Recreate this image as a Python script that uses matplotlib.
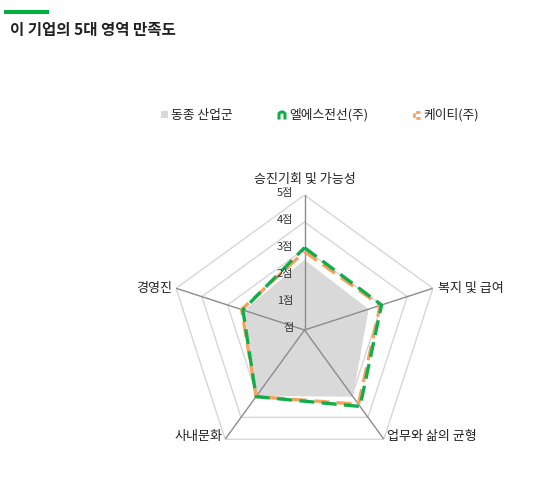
import numpy as np
import matplotlib
matplotlib.use("Agg")
import matplotlib.pyplot as plt
from matplotlib.lines import Line2D
from matplotlib.patches import Rectangle

plt.rcParams['font.family'] = ['Noto Sans CJK KR', 'DejaVu Sans']

categories = ["승진기회 및 가능성", "복지 및 급여", "업무와 삶의 균형", "사내문화", "경영진"]
industry = [2.6, 2.5, 3.05, 3.0, 2.35]
ls_cable = [3.05, 3.0, 3.5, 3.05, 2.4]
kt = [2.9, 2.95, 3.4, 3.05, 2.45]
series_names = ["동종 산업군", "엘에스전선(주)", "케이티(주)"]
tick_values = [0, 1, 2, 3, 4, 5]
tick_labels = ["점", "1점", "2점", "3점", "4점", "5점"]
title = "이 기업의 5대 영역 만족도"

GRAY = "#d9d9d9"
GREEN = "#12ad4b"
ORANGE = "#f6a15e"

W, H = 550, 490
fig = plt.figure(figsize=(W / 100, H / 100), dpi=100)

cx, cy, R = 304.5, 330, 135
ax = fig.add_axes([(cx - R) / W, (H - cy - R) / H, 2 * R / W, 2 * R / H], projection="polar")
ax.set_theta_offset(np.pi / 2)
ax.set_theta_direction(-1)
ax.set_ylim(0, 5)
ax.grid(False)
ax.spines["polar"].set_visible(False)
ax.set_xticks([])
ax.set_yticks([])
ax.patch.set_alpha(0)

n = len(categories)
theta = np.linspace(0, 2 * np.pi, n, endpoint=False)
theta_c = np.append(theta, theta[0])

def closed(v):
    return np.append(v, v[0])

# ring grid
for t in tick_values[1:]:
    ax.plot(theta_c, [t] * (n + 1), color="#d6d6d6", lw=1.0, zorder=1)

# industry fill
ax.fill(theta_c, closed(industry), color=GRAY, lw=0, zorder=2)

# spokes
for th in theta:
    ax.plot([th, th], [0, 5], color="#8c8c8c", lw=1.0, zorder=3)

# series lines
ax.plot(theta_c, closed(kt), color=ORANGE, lw=2.4, dashes=(4.5, 2.2), dash_capstyle="butt", zorder=4)
ax.plot(theta_c, closed(ls_cable), color=GREEN, lw=2.4, dashes=(4.5, 2.2), dash_capstyle="butt", zorder=5)

# tick labels
for v, lab in zip(tick_values, tick_labels):
    ax.annotate(lab, xy=(0, v), xytext=(-8, 1.5), textcoords="offset points",
                ha="right", va="center", fontsize=8, color="#333333", zorder=6)

# category labels
offsets = [((0, 11), "center", "center"),
           ((4, 0), "left", "center"),
           ((2, 2), "left", "center"),
           ((-2, 2), "right", "center"),
           ((-3, 0), "right", "center")]
for th, lab, (off, ha, va) in zip(theta, categories, offsets):
    ax.annotate(lab, xy=(th, 5), xytext=off, textcoords="offset points",
                ha=ha, va=va, fontsize=9.4, color="#222222")

# title + accent bar
fig.add_artist(Rectangle((4 / W, 1 - 14 / H), 45 / W, 4 / H, transform=fig.transFigure,
                         color="#00b140", lw=0))
fig.text(10 / W, 1 - 29.5 / H, title, fontsize=11.2, fontweight="heavy", color="#222222",
         ha="left", va="center")

# legend (manual)
ly = 1 - 115 / H
px = lambda v: v / W
py = lambda v: v / H
fig.add_artist(Rectangle((px(161), ly - py(3.5)), px(7), py(7), transform=fig.transFigure,
                         color=GRAY, lw=0))
fig.text(px(171), ly, series_names[0], fontsize=9.2, color="#222222", ha="left", va="center")
fig.add_artist(Line2D([px(279), px(279), px(281), px(283), px(285), px(285)],
                      [ly - py(3), ly + py(1.5), ly + py(3), ly + py(3), ly + py(1.5), ly - py(3)],
                      transform=fig.transFigure, color=GREEN, lw=2.2))
fig.text(px(289), ly, series_names[1], fontsize=9.2, color="#222222", ha="left", va="center")
fig.add_artist(Line2D([px(420), px(414), px(414), px(420)],
                      [ly + py(3), ly + py(3), ly - py(3), ly - py(3)],
                      transform=fig.transFigure, color=ORANGE, lw=2.0, dashes=(1.6, 0.9)))
fig.text(px(423), ly, series_names[2], fontsize=9.2, color="#222222", ha="left", va="center")

fig.savefig("out.png", dpi=100, facecolor="white")
